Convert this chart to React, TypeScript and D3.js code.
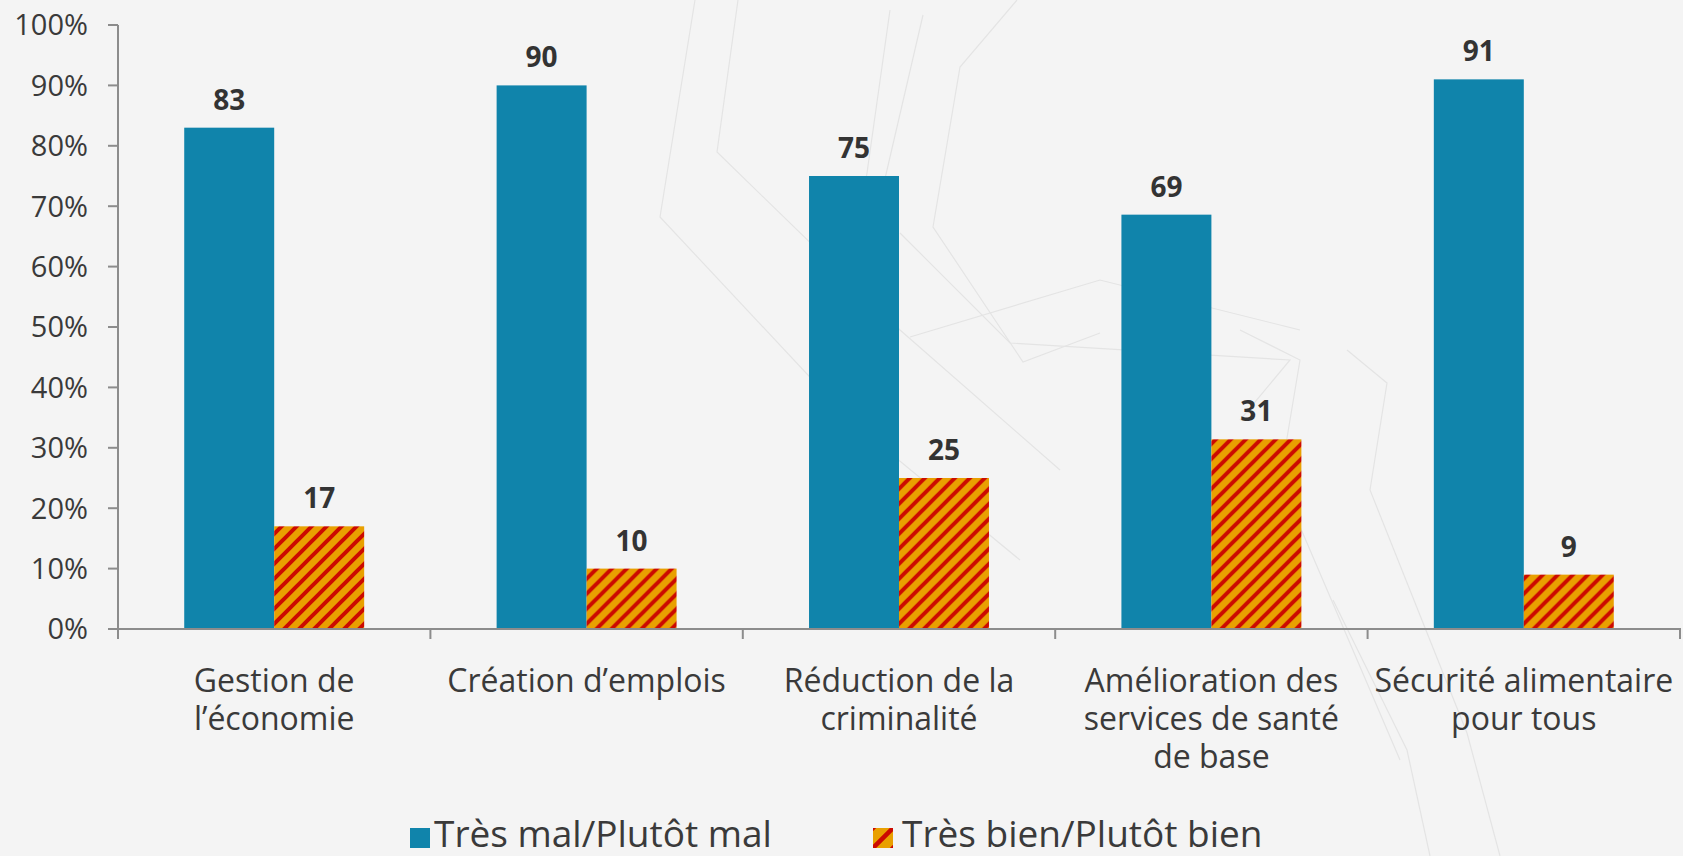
import React, { useEffect } from "react";
import * as d3 from "d3";

const categories: string[][] = [
  ["Gestion de", "l’économie"],
  ["Création d’emplois"],
  ["Réduction de la", "criminalité"],
  ["Amélioration des", "services de santé", "de base"],
  ["Sécurité alimentaire", "pour tous"],
];
const seriesNames = ["Très mal/Plutôt mal", "Très bien/Plutôt bien"];
const mal = [83, 90, 75, 68.6, 91];
const bien = [17, 10, 25, 31.4, 9];
const yTicks = [0, 10, 20, 30, 40, 50, 60, 70, 80, 90, 100];

const decoLines: [number, number][][] = [
  [[695, 0], [660, 217], [850, 420], [1020, 560]],
  [[738, 0], [717, 152], [900, 330], [1060, 470]],
  [[890, 10], [867, 173], [845, 300]],
  [[923, 15], [880, 200], [870, 330]],
  [[1017, 0], [960, 67], [933, 227], [1023, 362], [1100, 333]],
  [[900, 233], [1010, 343], [1290, 360], [1240, 420]],
  [[910, 337], [1100, 280], [1300, 330]],
  [[1347, 350], [1387, 383], [1370, 490], [1467, 733], [1500, 856]],
  [[1333, 600], [1407, 750], [1430, 856]],
  [[1240, 330], [1300, 360], [1280, 480], [1400, 760]],
];

const W = 1683;
const H = 856;
const FONT = "'Open Sans', 'DejaVu Sans', sans-serif";
const BLUE = "#1084AB";
const ORANGE = "#E9A000";
const RED = "#CC0A00";
const AXIS = "#8c8c8c";
const TEXT = "#3a3a3a";

export default function App() {
  useEffect(() => {
    document.body.style.margin = "0";
    document.body.style.overflow = "hidden";
  }, []);

  const x0 = d3.scaleBand<number>().domain(d3.range(categories.length)).range([118, 1680]).paddingInner(0).paddingOuter(0);
  const x1 = d3.scaleBand<number>().domain([0, 1]).range([0, x0.bandwidth()]).paddingInner(0).paddingOuter(0.736);
  const y = d3.scaleLinear().domain([0, 100]).range([629, 25]);
  const fmt = d3.format(".0f");
  const line = d3.line<[number, number]>();

  const values = [mal, bien];
  const boundaries = d3.range(categories.length + 1).map((i) => (i < categories.length ? (x0(i) as number) : 1680));

  return (
    <svg width={W} height={H} style={{ position: "absolute", left: 0, top: 0, display: "block" }}>
      <defs>
        <pattern id="stripes" patternUnits="userSpaceOnUse" width={15} height={15}>
          <rect width={15} height={15} fill={ORANGE} />
          <path d="M-3.75,3.75 L3.75,-3.75 M0,15 L15,0 M11.25,18.75 L18.75,11.25" stroke={RED} strokeWidth={4} />
        </pattern>
        <pattern id="stripesLegend" patternUnits="userSpaceOnUse" x={873} y={828} width={20} height={20}>
          <rect width={20} height={20} fill={ORANGE} />
          <path d="M-5,5 L5,-5 M0,20 L20,0 M15,25 L25,15" stroke={RED} strokeWidth={4.5} />
        </pattern>
      </defs>
      <rect width={W} height={H} fill="#f4f4f4" />
      <g fill="none" stroke="#e4e4e4" strokeWidth={1.2}>
        {decoLines.map((pts, i) => (
          <path key={i} d={line(pts) || ""} />
        ))}
      </g>

      {categories.map((_, ci) => (
        <g key={ci} transform={`translate(${x0(ci)},0)`}>
          {values.map((vals, si) => {
            const v = vals[ci];
            const bx = x1(si) as number;
            const bw = x1.bandwidth();
            return (
              <g key={si}>
                <rect x={bx} y={y(v)} width={bw} height={y(0) - y(v)} fill={si === 0 ? BLUE : "url(#stripes)"} />
                <text
                  x={bx + bw / 2}
                  y={y(v) - 18}
                  textAnchor="middle"
                  fontFamily={FONT}
                  fontWeight={700}
                  fontSize={28}
                  fill="#333"
                >
                  {fmt(v)}
                </text>
              </g>
            );
          })}
        </g>
      ))}

      <line x1={118} x2={118} y1={y(100)} y2={639} stroke={AXIS} strokeWidth={2} />
      {yTicks.map((t) => (
        <g key={t}>
          <line x1={108} x2={118} y1={y(t)} y2={y(t)} stroke={AXIS} strokeWidth={2} />
          <text x={88} y={y(t)} dy="0.36em" textAnchor="end" fontFamily={FONT} fontSize={29} fill={TEXT}>
            {t}%
          </text>
        </g>
      ))}

      <line x1={108} x2={1681} y1={y(0)} y2={y(0)} stroke={AXIS} strokeWidth={2} />
      {boundaries.map((bx, i) => (
        <line key={i} x1={bx} x2={bx} y1={y(0)} y2={639} stroke={AXIS} strokeWidth={2} />
      ))}
      {categories.map((lines, ci) =>
        lines.map((l, li) => (
          <text
            key={`${ci}-${li}`}
            x={(x0(ci) as number) + x0.bandwidth() / 2}
            y={692 + li * 38}
            textAnchor="middle"
            fontFamily={FONT}
            fontSize={32}
            fill={TEXT}
          >
            {l}
          </text>
        ))
      )}

      <rect x={410} y={828} width={20} height={20} fill={BLUE} />
      <text x={434} y={847} fontFamily={FONT} fontSize={37} fill={TEXT}>
        {seriesNames[0]}
      </text>
      <rect x={873} y={828} width={20} height={20} fill="url(#stripesLegend)" />
      <text x={902} y={847} fontFamily={FONT} fontSize={37} fill={TEXT}>
        {seriesNames[1]}
      </text>
    </svg>
  );
}
